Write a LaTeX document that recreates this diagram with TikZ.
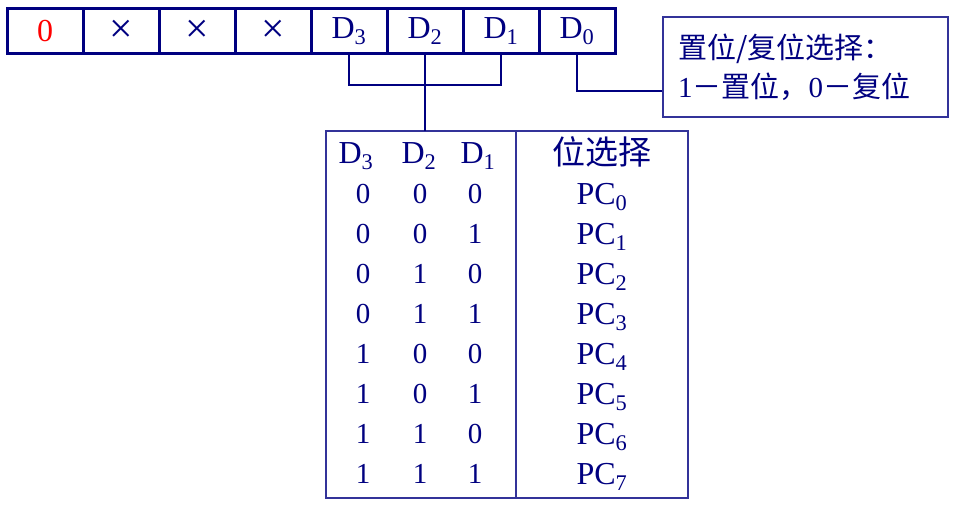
\documentclass[tikz,border=0pt]{standalone}
\usepackage{fontspec}
\setmainfont{Liberation Serif}
\newfontfamily\cjk{Noto Sans CJK SC}
\usetikzlibrary{positioning}
\definecolor{navy}{RGB}{0,0,128}
\newcommand{\idx}[1]{\textsubscript{#1}}

\begin{document}
\begin{tikzpicture}[x=1pt, y=-1pt,
  cell/.style={draw=navy, line width=3pt, minimum width=76pt, minimum height=45pt,
    inner sep=0pt, text=navy, font=\fontsize{32}{32}\selectfont},
  wire/.style={draw=navy, line width=2pt},
  tbox/.style={draw=navy!80, line width=1.3pt, minimum height=367pt, outer sep=0pt, inner sep=0pt},
  bit/.style={anchor=base, text=navy, font=\fontsize{29}{29}\selectfont},
  pc/.style={anchor=base, text=navy, font=\fontsize{32}{32}\selectfont}]
  \useasboundingbox (0,0) rectangle (955,506);
  % control word
  \foreach \n/\t [count=\i from 0] in {7/{\textcolor{red}{0}}, 6/\scalebox{1.3}{×},
      5/\scalebox{1.3}{×}, 4/\scalebox{1.3}{×},
      3/D\idx{3}, 2/D\idx{2}, 1/D\idx{1}, 0/D\idx{0}}
    \node[cell] (b\n) at (45+76*\i, 31) {\t};
  % table
  \node[tbox, minimum width=190pt] (bits) at (421,314.5) {};
  \node[tbox, minimum width=172pt, right=0pt of bits] (sel) {};
  \node[pc] (h3) at (356,163) {D\idx{3}};
  \node[pc] (h2) at (419,163) {D\idx{2}};
  \node[pc] (h1) at (478,163) {D\idx{1}};
  \node[pc, font=\cjk\fontsize{33}{33}\selectfont] (hsel) at (602,164) {位选择};
  \foreach \a/\b/\c [count=\r from 0] in {0/0/0,0/0/1,0/1/0,0/1/1,1/0/0,1/0/1,1/1/0,1/1/1} {
    \node[bit] (d3r\r) at (363,203+40*\r) {\a};
    \node[bit] (d2r\r) at (420,203+40*\r) {\b};
    \node[bit] (d1r\r) at (475,203+40*\r) {\c};
    \node[pc] (pc\r) at (602,204+40*\r) {PC\idx{\r}};
  }
  % set/reset note
  \node[draw=navy!80, line width=1.3pt, text=navy, text width=255pt, inner xsep=15pt,
    minimum height=100pt, align=left, font=\fontsize{29}{39}\selectfont] (note) at (805.5,67)
    {{\cjk 置位/复位选择：}\\1{\cjk －置位，}0{\cjk －复位}};
  \draw[wire] (b3.south) -- ++(0,30) -| (b1.south);
  \draw[wire] (b2.south) -- (b2.south |- bits.north);
  \draw[wire] (b0.south) |- ([yshift=-24pt]note.west);
\end{tikzpicture}
\end{document}
